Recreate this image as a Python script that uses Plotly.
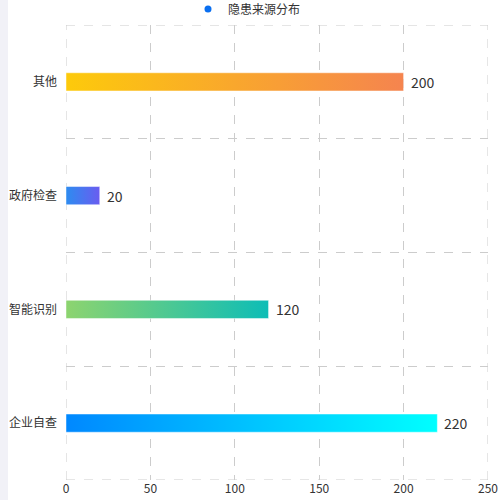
import plotly.graph_objects as go

categories = ["企业自查", "智能识别", "政府检查", "其他"]
values = [220, 120, 20, 200]
grad_start = ["#0088ff", "#8dd46f", "#2d8cf0", "#fdca0b"]
grad_end = ["#00ffff", "#0dbdb6", "#6a5cf0", "#f5844f"]
x_ticks = [0, 50, 100, 150, 200, 250]
series_name = "隐患来源分布"

half = 0.08
font_family = "Noto Sans CJK SC, Microsoft YaHei, sans-serif"
grid_color = "#cccccc"

fig = go.Figure()
for i, (cat, v) in enumerate(zip(categories, values)):
    fig.add_trace(go.Scatter(
        x=[0, v, v, 0, 0],
        y=[i - half, i - half, i + half, i + half, i - half],
        mode="lines",
        line=dict(width=0.8, color="rgba(255,255,255,0.6)"),
        fill="toself",
        fillgradient=dict(type="horizontal",
                          colorscale=[[0, grad_start[i]], [1, grad_end[i]]]),
        showlegend=False,
        hoverinfo="skip",
    ))

annotations = [
    dict(x=v, y=i, xref="x", yref="y", text=str(v), showarrow=False,
         xanchor="left", yanchor="middle", xshift=5,
         font=dict(size=14, color="#333333", family=font_family))
    for i, v in enumerate(values)
]

fig.add_trace(go.Scatter(
    x=[None], y=[None], mode="markers", name=series_name,
    marker=dict(symbol="circle", size=7, color="#0a6ff0"),
))

x_lo, x_hi = x_ticks[0], x_ticks[-1]
y_lo, y_hi = -0.5, len(categories) - 0.5
border_lines = [
    dict(type="line", xref="x", yref="y", x0=x_lo, x1=x_lo, y0=y_lo, y1=y_hi),
    dict(type="line", xref="x", yref="y", x0=x_hi, x1=x_hi, y0=y_lo, y1=y_hi),
    dict(type="line", xref="x", yref="y", x0=x_lo, x1=x_hi, y0=y_lo, y1=y_lo),
    dict(type="line", xref="x", yref="y", x0=x_lo, x1=x_hi, y0=y_hi, y1=y_hi),
]
for s in border_lines:
    s["line"] = dict(color=grid_color, width=1, dash="dash")
    s["layer"] = "below"

fig.update_layout(
    width=500, height=500,
    margin=dict(l=66, r=12, t=25, b=20, autoexpand=False),
    paper_bgcolor="white", plot_bgcolor="white",
    font=dict(family=font_family, color="#333333", size=12),
    legend=dict(orientation="h", x=(188 - 66) / 422, xanchor="left",
                y=1 + (25 - 9) / 455, yanchor="middle",
                font=dict(size=12, color="#333333"),
                bgcolor="rgba(0,0,0,0)"),
    xaxis=dict(range=[x_lo, x_hi], tickvals=x_ticks, showgrid=True,
               gridcolor=grid_color, griddash="dash", gridwidth=1,
               zeroline=False, showline=False, ticks="", automargin=False,
               tickfont=dict(size=12, color="#333333")),
    yaxis=dict(range=[y_lo, y_hi], tickvals=list(range(len(categories))),
               ticktext=categories, showgrid=False, zeroline=False,
               showline=False, ticks="", ticklabelstandoff=8, automargin=False,
               tickfont=dict(size=12, color="#333333"),
               minor=dict(tickvals=[k + 0.5 for k in range(len(categories) - 1)],
                          showgrid=True, gridcolor=grid_color, griddash="dash",
                          gridwidth=1, ticks="")),
    annotations=annotations,
    shapes=[dict(type="rect", xref="paper", yref="paper",
                 x0=-66 / 422, x1=-58 / 422, y0=-20 / 455, y1=1 + 25 / 455,
                 fillcolor="#f1f1f7", line=dict(width=0), layer="below")] + border_lines,
)

fig.write_html("out.html",
               config={"displayModeBar": False},
               post_script="document.body.style.margin='0';document.body.style.overflow='hidden';")
